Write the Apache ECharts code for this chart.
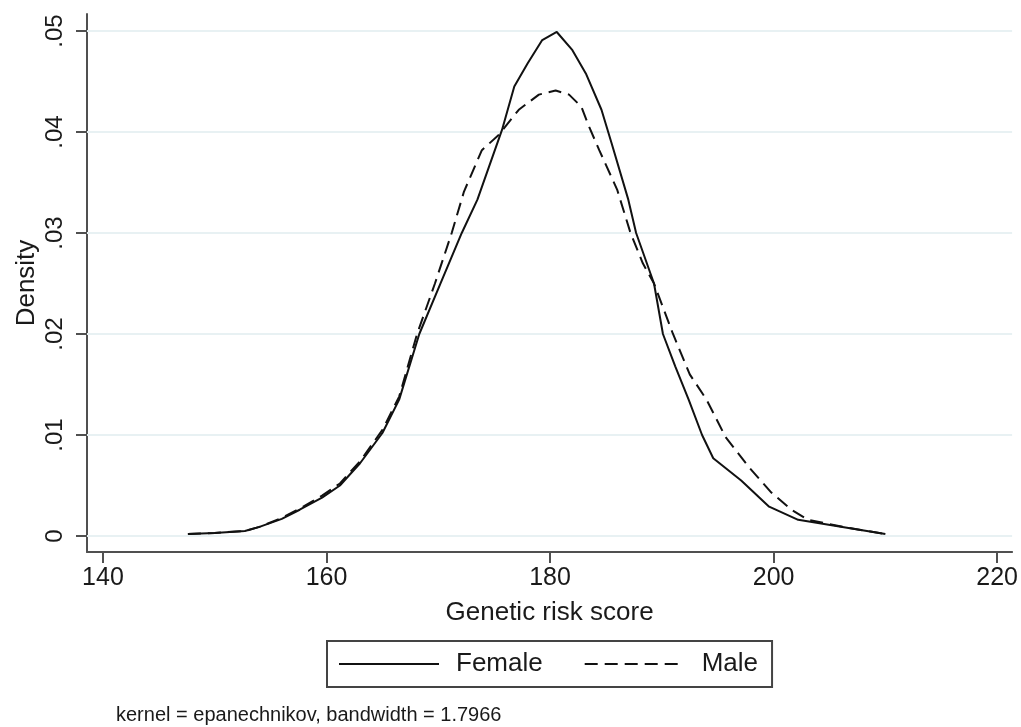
<!DOCTYPE html>
<html>
<head>
<meta charset="utf-8">
<script src="https://cdn.jsdelivr.net/npm/echarts@6/dist/echarts.min.js"></script>
<style>html,body{margin:0;padding:0;background:#fff}#c{width:1021px;height:727px}</style>
</head>
<body>
<div id="c"></div>
<script>
const femaleX = [147.6,150,152.7,154,156,157.6,159.6,161.2,163,165,166.5,168.3,170.2,172.1,173.5,175.7,176.8,178,179.3,180.6,182,183.2,184.6,185.5,187,187.7,189.3,190.1,191.2,192.4,193.6,194.6,197.1,199.6,202.2,206.7,210];
const femaleY = [.0002,.0003,.0005,.0009,.0017,.0026,.0038,.0050,.0072,.0102,.0135,.0200,.0250,.0300,.0333,.0402,.0445,.0468,.0491,.0499,.0481,.0458,.0422,.0389,.0333,.0300,.0250,.0200,.0168,.0135,.0100,.0077,.0055,.0029,.0016,.0008,.0002];
const maleX = [147.6,150,152.7,154,156,157.6,159.6,161.2,163,165,166.5,168.1,169.7,171.2,172.3,173.9,175.4,177.2,179,180.5,181.7,182.8,183.5,184.4,186,187.2,188.3,189.3,191,192.5,194,195.7,197.8,199.8,201.6,203.1,206.7,210];
const maleY = [.0002,.0003,.0005,.0009,.0018,.0027,.0040,.0052,.0074,.0105,.0138,.0200,.0250,.0300,.0341,.0382,.0397,.0422,.0437,.0441,.0437,.0425,.0405,.0382,.0343,.0300,.0270,.0250,.0200,.0160,.0135,.0098,.0068,.0043,.0026,.0016,.0008,.0002];
const xTicks = [140,160,180,200,220];
const yTicks = [0,.01,.02,.03,.04,.05];
const seriesNames = ['Female','Male'];
const note = 'kernel = epanechnikov, bandwidth = 1.7966';

const FONT = "'Liberation Sans', Arial, sans-serif";
const TXT = '#1a1a1a';
const AX = '#505050';
const zip = (xs, ys) => xs.map((x, i) => [x, ys[i]]);

const chart = echarts.init(document.getElementById('c'));
chart.setOption({
  animation: false,
  backgroundColor: '#fff',
  textStyle: { fontFamily: FONT },
  title: {
    text: note, left: 111, top: 700,
    textStyle: { fontFamily: FONT, fontSize: 20, fontWeight: 'normal', color: TXT }
  },
  legend: {
    data: seriesNames,
    left: 327, top: 641,
    orient: 'horizontal',
    borderColor: '#444', borderWidth: 2, borderRadius: 0,
    padding: [10, 14, 10, 11],
    itemWidth: 100, itemHeight: 14, itemGap: 41,
    itemStyle: { opacity: 0 },
    textStyle: { fontFamily: FONT, fontSize: 26, color: TXT, padding: [0, 0, 0, 12] }
  },
  grid: { left: 87, right: 7, top: 14, bottom: 175, containLabel: false },
  xAxis: {
    type: 'value',
    min: 138.571, max: 221.34,
    name: 'Genetic risk score', nameLocation: 'middle', nameGap: 48,
    nameTextStyle: { fontFamily: FONT, fontSize: 26, color: TXT },
    axisLine: { onZero: false, lineStyle: { color: AX, width: 2 } },
    axisTick: { show: true, customValues: xTicks, length: 11, lineStyle: { color: AX, width: 2 } },
    axisLabel: { customValues: xTicks, fontSize: 25, color: TXT, margin: 14, fontFamily: FONT },
    splitLine: { show: false }
  },
  yAxis: {
    type: 'value',
    min: -0.001584, max: 0.05168,
    name: 'Density', nameLocation: 'middle', nameGap: 47, nameMoveOverlap: false,
    nameTextStyle: { fontFamily: FONT, fontSize: 26, color: TXT },
    axisLine: { show: true, lineStyle: { color: AX, width: 2 } },
    axisTick: { show: true, customValues: yTicks, length: 11, lineStyle: { color: AX, width: 2 } },
    axisLabel: {
      customValues: yTicks, fontSize: 24, color: TXT, rotate: 90, margin: 20, fontFamily: FONT,
      formatter: v => v === 0 ? '0' : Number(v).toFixed(2).replace(/^0/, '')
    },
    splitLine: { show: false }
  },
  series: [
    {
      name: seriesNames[0], type: 'line', data: zip(femaleX, femaleY),
      symbol: 'none', smooth: false,
      lineStyle: { color: '#111', width: 2, type: 'solid' },
      itemStyle: { color: '#111' },
      markLine: {
        silent: true, symbol: 'none', label: { show: false },
        lineStyle: { color: '#e8f1f3', width: 2, type: 'solid' },
        data: yTicks.map(v => ({ yAxis: v })),
        z: 1
      },
      z: 3
    },
    {
      name: seriesNames[1], type: 'line', data: zip(maleX, maleY),
      symbol: 'none', smooth: false,
      lineStyle: { color: '#111', width: 2, type: [13, 7] },
      itemStyle: { color: '#111' },
      z: 3
    }
  ]
});
</script>
</body>
</html>
